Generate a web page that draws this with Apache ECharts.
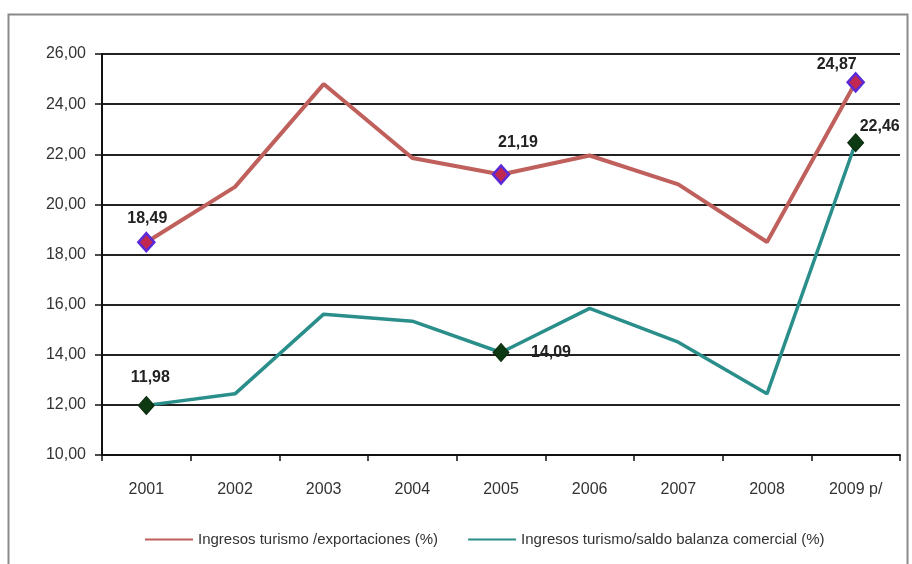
<!DOCTYPE html>
<html>
<head>
<meta charset="utf-8">
<script src="https://cdn.jsdelivr.net/npm/echarts@6/dist/echarts.min.js"></script>
<style>
  html, body { margin: 0; padding: 0; background: #fff; }
  #chart { width: 912px; height: 564px; }
</style>
</head>
<body>
<div id="chart"></div>
<script>
// Years on the category axis
const years = ['2001', '2002', '2003', '2004', '2005', '2006', '2007', '2008', '2009 p/'];

// Tourism income as a share of exports (%)
const turismoExportaciones = [18.49, 20.7, 24.8, 21.85, 21.19, 21.95, 20.8, 18.5, 24.87];

// Tourism income as a share of the trade balance (%)
const turismoBalanza = [11.98, 12.44, 15.62, 15.34, 14.09, 15.85, 14.5, 12.44, 22.46];

// Series names shown in the legend
const seriesNames = ['Ingresos turismo /exportaciones (%)', 'Ingresos turismo/saldo balanza comercial (%)'];

// Points that carry a diamond marker and a value label
const markedPoints = [0, 4, 8];

// Label placement (dx, dy from the marker centre) for each marked point
const labelOffsets = [
  { 0: [1, -24], 4: [17, -32], 8: [-19, -18] },
  { 0: [4, -28], 4: [50, 0], 8: [24, -16] }
];

const fmt = v => v.toFixed(2).replace('.', ',');
const FONT = "'Liberation Sans', Arial, sans-serif";

function buildData(values, sIdx, markerStyle) {
  return values.map((v, i) => {
    if (markedPoints.indexOf(i) === -1) return v;
    return {
      value: v,
      symbol: 'diamond',
      symbolSize: [16, 18],
      itemStyle: markerStyle,
      label: {
        show: true,
        position: 'inside',
        offset: labelOffsets[sIdx][i],
        formatter: p => fmt(p.value),
        fontFamily: FONT,
        fontSize: 16,
        fontWeight: 'bold',
        color: '#222'
      }
    };
  });
}

const chart = echarts.init(document.getElementById('chart'), null, { renderer: 'canvas' });

chart.setOption({
  animation: false,
  backgroundColor: '#fff',
  graphic: [{
    type: 'rect',
    left: 6, top: 12,
    shape: { width: 899, height: 600 },
    style: { fill: 'none', stroke: '#8a8a8a', lineWidth: 2 },
    silent: true
  }],
  grid: { left: 102, right: 12, top: 54, bottom: 109 },
  legend: {
    bottom: 12,
    left: 140,
    itemGap: 30,
    itemWidth: 48,
    itemHeight: 2,
    icon: 'rect',
    textStyle: { fontFamily: FONT, fontSize: 15, color: '#333' },
    data: seriesNames
  },
  xAxis: {
    type: 'category',
    data: years,
    boundaryGap: true,
    axisLine: { lineStyle: { color: '#111', width: 2 } },
    axisTick: { show: true, alignWithLabel: false, length: 6, lineStyle: { color: '#111', width: 1.5 } },
    axisLabel: { margin: 27, fontFamily: FONT, fontSize: 16, color: '#333' }
  },
  yAxis: {
    type: 'value',
    min: 10, max: 26, interval: 2,
    axisLine: { show: true, lineStyle: { color: '#111', width: 2 } },
    axisTick: { show: true, length: 7, lineStyle: { color: '#111', width: 1.5 } },
    axisLabel: { margin: 16, fontFamily: FONT, fontSize: 16, color: '#333', formatter: v => fmt(v) },
    splitLine: { show: true, lineStyle: { color: '#222', width: 2 } }
  },
  series: [
    {
      name: seriesNames[0],
      type: 'line',
      symbol: 'none',
      showSymbol: true,
      lineStyle: { color: '#c0605c', width: 4 },
      itemStyle: { color: '#c0605c' },
      data: buildData(turismoExportaciones, 0, { color: '#c0284f', borderColor: '#5a2ad8', borderWidth: 2.5 }),
      z: 3
    },
    {
      name: seriesNames[1],
      type: 'line',
      symbol: 'none',
      showSymbol: true,
      lineStyle: { color: '#2a8e8a', width: 3.5 },
      itemStyle: { color: '#2a8e8a' },
      data: buildData(turismoBalanza, 1, { color: '#0d3a12', borderColor: '#0a2a0c', borderWidth: 1 }),
      z: 4
    }
  ]
});
</script>
</body>
</html>
